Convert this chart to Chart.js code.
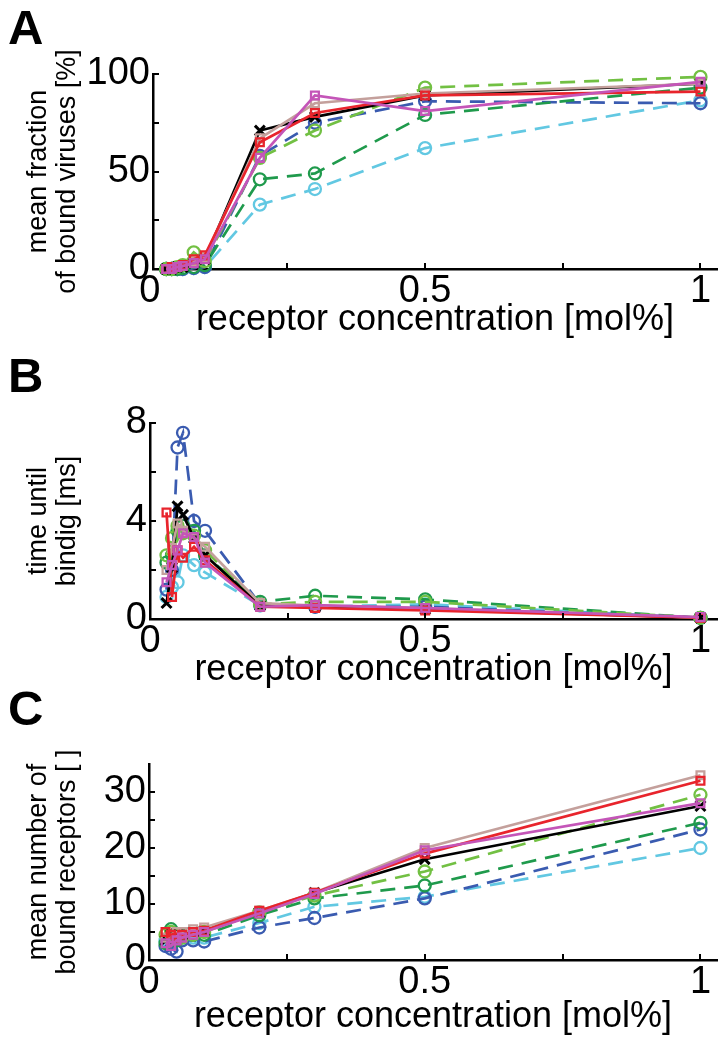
<!DOCTYPE html>
<html><head><meta charset="utf-8">
<script src="https://cdn.jsdelivr.net/npm/chart.js@4/dist/chart.umd.min.js"></script>
<style>
html,body{margin:0;padding:0;background:#fff}
body{width:728px;height:1049px;overflow:hidden;position:relative;font-family:"Liberation Sans",Arial,sans-serif}
canvas{position:absolute;left:0}
.lbl{position:absolute;font-weight:bold;font-size:49px;line-height:49px;left:8px;color:#000}
</style></head><body>
<div class="lbl" style="top:3px">A</div>
<div class="lbl" style="top:351px">B</div>
<div class="lbl" style="top:684px">C</div>
<canvas id="cA" style="top:0px;width:728px;height:350px" width="728" height="350"></canvas>
<canvas id="cB" style="top:350px;width:728px;height:350px" width="728" height="350"></canvas>
<canvas id="cC" style="top:700px;width:728px;height:349px" width="728" height="349"></canvas>
<script>
// ---- data ----
const xValues = [0.03, 0.04, 0.05, 0.06, 0.08, 0.1, 0.2, 0.3, 0.5, 1];
const xTickValues = [0, 0.25, 0.5, 0.75, 1];
const xTickLabels = ['0', '', '0.5', '', '1'];

// Panel A: mean fraction of bound viruses [%]
const A_magenta    = [0, 0, 1, 1.5, 3, 5, 57, 89, 81, 96];
const A_red        = [0, 1, 1, 2, 5, 7, 65, 80, 89, 91];
const A_tan        = [0, 0.5, 1, 2, 4, 6, 67, 85, 90, 95];
const A_black      = [0, 0, 1, 1, 3, 5, 71, 78, 89, 95];
const A_lightgreen = [0, 0, 1, 2, 8.5, 4, 57, 71, 93, 98.5];
const A_darkgreen  = [0, 0, 0, 0.5, 1, 2, 46, 49, 79, 93];
const A_blue       = [0, 0, 0, 0, 0.5, 1, 58, 75, 86, 85];
const A_cyan       = [0, 0, 0, 0, 0.5, 1, 33, 41, 62, 86.5];
const A_yTickValues = [0, 25, 50, 75, 100];
const A_yTickLabels = ['0', '', '50', '', '100'];

// Panel B: time until binding [ms]
const B_magenta    = [1.5, 2.2, 2.8, 3.5, 3.35, 2.3, 0.5, 0.57, 0.45, 0.08];
const B_red        = [4.35, 0.9, 2.8, 2.5, 2.95, 2.4, 0.5, 0.45, 0.35, 0.05];
const B_tan        = [2.0, 2.9, 3.9, 3.6, 3.3, 2.95, 0.65, 0.55, 0.45, 0.05];
const B_black      = [0.65, 2.1, 4.6, 4.25, 3.3, 2.6, 0.55, 0.5, 0.4, 0.05];
const B_lightgreen = [2.6, 3.3, 3.8, 3.5, 3.4, 2.8, 0.6, 0.7, 0.7, 0.05];
const B_darkgreen  = [2.3, 2.6, 3.6, 3.8, 3.6, 2.6, 0.7, 0.95, 0.8, 0.05];
const B_blue       = [1.2, 2.0, 7.0, 7.6, 4.0, 3.6, 0.6, 0.5, 0.5, 0.05];
const B_cyan       = [0.9, 1.3, 1.5, 2.6, 2.2, 1.9, 0.55, 0.5, 0.6, 0.05];
const B_yTickValues = [0, 2, 4, 6, 8];
const B_yTickLabels = ['0', '', '4', '', '8'];

// Panel C: mean number of bound receptors
const C_magenta    = [3, 2.5, 3.5, 4, 4.5, 5, 8.3, 11.8, 19.6, 28];
const C_red        = [5, 4.5, 4.0, 4.5, 5, 5.2, 8.8, 12, 19, 32];
const C_tan        = [4, 4.5, 5, 5, 5.5, 5.8, 8.8, 12, 20, 33];
const C_black      = [3.5, 4.5, 4.8, 4.5, 5, 5.2, 8.5, 12, 18, 27.5];
const C_lightgreen = [4.5, 5, 4.5, 4, 4.5, 5, 8.5, 11.5, 15.8, 29.5];
const C_darkgreen  = [3, 5.5, 3.5, 4.5, 4.5, 4.5, 8, 11, 13.3, 24.5];
const C_blue       = [2.5, 2, 1.5, 3.5, 3.5, 3.3, 5.8, 7.5, 11, 23.3];
const C_cyan       = [3.5, 3, 4.5, 4, 4, 4, 6.6, 9.5, 11.3, 20];
const C_yTickValues = [0, 5, 10, 15, 20, 25, 30];
const C_yTickLabels = ['0', '', '10', '', '20', '', '30'];

// ---- styles ----
const styles = [
  {color: '#c455b8', shape: 'rect', dash: [], r: 5.5},
  {color: '#e8242c', shape: 'rect', dash: [], r: 5.5},
  {color: '#c4a09c', shape: 'rect', dash: [], r: 5.5},
  {color: '#000000', shape: 'crossRot', dash: [], r: 7},
  {color: '#72c043', shape: 'circle', dash: [15, 9], r: 6},
  {color: '#1f9a4c', shape: 'circle', dash: [15, 9], r: 6},
  {color: '#3a5bb0', shape: 'circle', dash: [15, 9], r: 6},
  {color: '#62c8e2', shape: 'circle', dash: [15, 9], r: 6}
];

function makeDatasets(list) {
  return list.map((arr, i) => {
    const s = styles[i];
    return {
      data: xValues.map((x, k) => ({x: x, y: arr[k]})),
      borderColor: s.color,
      backgroundColor: 'rgba(0,0,0,0)',
      borderWidth: 2.7,
      borderDash: s.dash,
      pointStyle: s.shape,
      pointRadius: s.r,
      pointBorderWidth: s.shape === 'crossRot' ? 3 : 2.3,
      pointBorderColor: s.color,
      pointBackgroundColor: 'rgba(0,0,0,0)',
      tension: 0,
      clip: false
    };
  });
}

const inwardTicks = {
  id: 'inwardTicks',
  afterDraw(chart, args, opts) {
    const ctx = chart.ctx;
    const xs = chart.scales.x, ys = chart.scales.y;
    const a = chart.chartArea;
    ctx.save();
    ctx.strokeStyle = '#000';
    ctx.lineWidth = 2;
    opts.xt.forEach(v => {
      if (v < xs.min - 1e-9 || v > xs.max) return;
      const p = Math.round(xs.getPixelForValue(v));
      ctx.beginPath(); ctx.moveTo(p, a.bottom); ctx.lineTo(p, a.bottom - 6); ctx.stroke();
    });
    opts.yt.forEach(v => {
      if (v < ys.min || v > ys.max) return;
      const p = Math.round(ys.getPixelForValue(v));
      ctx.beginPath(); ctx.moveTo(a.left, p); ctx.lineTo(a.left + 6, p); ctx.stroke();
    });
    ctx.restore();
  }
};

const FONT = '"Liberation Sans", Arial, sans-serif';

function makeChart(id, p) {
  const labelOf = (vals, labs) => (v) => {
    const i = vals.findIndex(t => Math.abs(t - v) < 1e-9);
    return i >= 0 ? labs[i] : '';
  };
  return new Chart(document.getElementById(id), {
    type: 'line',
    data: {datasets: makeDatasets(p.series)},
    plugins: [inwardTicks],
    options: {
      responsive: false,
      devicePixelRatio: 1,
      animation: false,
      events: [],
      layout: {padding: {top: p.top, right: 11, left: 0, bottom: 0}},
      plugins: {legend: {display: false}, tooltip: {enabled: false}, inwardTicks: {xt: xTickValues, yt: p.yt}},
      scales: {
        x: {
          type: 'linear', min: p.xmin, max: 1.03,
          afterBuildTicks: s => { s.ticks = xTickValues.map(v => ({value: v})); },
          afterFit: s => { s.height = p.xh; },
          ticks: {callback: labelOf(xTickValues, xTickLabels), color: '#000', font: {size: 38, family: FONT, lineHeight: 1.0}, padding: 4, autoSkip: false, maxRotation: 0},
          grid: {display: false, drawTicks: false},
          border: {display: true, color: '#000', width: 2.5},
          title: {display: true, text: 'receptor concentration [mol%]', color: '#000', font: {size: 36, family: FONT, lineHeight: 1.0}, padding: {top: 0, bottom: p.tpad}}
        },
        y: {
          type: 'linear', min: p.ymin, max: p.ymax,
          afterBuildTicks: s => { s.ticks = p.yt.map(v => ({value: v})); },
          afterFit: s => { s.width = p.left; },
          ticks: {callback: labelOf(p.yt, p.yl), color: '#000', font: {size: 38, family: FONT}, padding: 3, autoSkip: false},
          grid: {display: false, drawTicks: false},
          border: {display: true, color: '#000', width: 2.5},
          title: {display: true, text: p.ytitle, color: '#000', font: {size: 27, family: FONT, lineHeight: 1.04}, padding: {top: 25, bottom: 0}}
        }
      }
    }
  });
}

makeChart('cA', {
  series: [A_magenta, A_red, A_tan, A_black, A_lightgreen, A_darkgreen, A_blue, A_cyan],
  top: 74, xh: 81, left: 153, xmin: 0.006, ymin: 0, ymax: 100,
  yt: A_yTickValues, yl: A_yTickLabels, tpad: 12,
  ytitle: ['mean fraction', 'of bound viruses [%]']
});
makeChart('cB', {
  series: [B_magenta, B_red, B_tan, B_black, B_lightgreen, B_darkgreen, B_blue, B_cyan],
  top: 73, xh: 81, left: 150, xmin: 0, ymin: 0, ymax: 8,
  yt: B_yTickValues, yl: B_yTickLabels, tpad: 12,
  ytitle: ['time until', 'bindig [ms]']
});
makeChart('cC', {
  series: [C_magenta, C_red, C_tan, C_black, C_lightgreen, C_darkgreen, C_blue, C_cyan],
  top: 64, xh: 89, left: 149, xmin: 0, ymin: 0, ymax: 35,
  yt: C_yTickValues, yl: C_yTickLabels, tpad: 14,
  ytitle: ['mean number of', 'bound receptors [ ]']
});
</script>
</body></html>
